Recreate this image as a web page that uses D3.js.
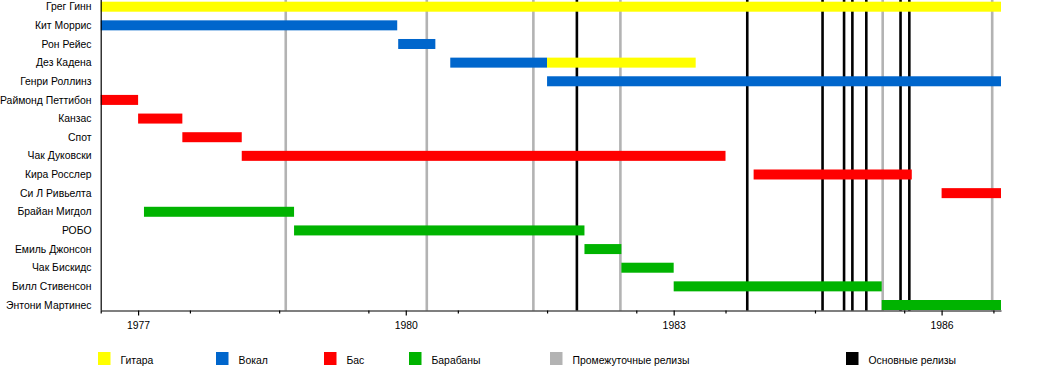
<!DOCTYPE html>
<html>
<head>
<meta charset="utf-8">
<script src="https://cdn.jsdelivr.net/npm/d3@7"></script>
<style>
  html, body { margin: 0; padding: 0; background: #fff; }
  svg { display: block; font-family: "Liberation Sans", Arial, sans-serif; }
</style>
</head>
<body>
<svg id="chart" width="1050" height="370"></svg>
<script>
// ---------- data ----------
const members = ["Грег Гинн", "Кит Моррис", "Рон Рейес", "Дез Кадена", "Генри Роллинз",
  "Раймонд Петтибон", "Канзас", "Спот", "Чак Дуковски", "Кира Росслер", "Си Л Ривьелта",
  "Брайан Мигдол", "РОБО", "Емиль Джонсон", "Чак Бискидс", "Билл Стивенсон", "Энтони Мартинес"];

const roles = ["guitar", "vocals", "bass", "drums"];
const roleLabels = ["Гитара", "Вокал", "Бас", "Барабаны"];
const roleColors = ["#ffff00", "#0066cc", "#ff0000", "#00b300"];

// member, role, from, till (mm/dd/yyyy)
const barMember = ["Грег Гинн", "Кит Моррис", "Рон Рейес", "Дез Кадена", "Дез Кадена", "Генри Роллинз",
  "Раймонд Петтибон", "Канзас", "Спот", "Чак Дуковски", "Кира Росслер", "Си Л Ривьелта",
  "Брайан Мигдол", "РОБО", "Емиль Джонсон", "Чак Бискидс", "Билл Стивенсон", "Энтони Мартинес"];
const barRole = ["guitar", "vocals", "vocals", "vocals", "guitar", "vocals",
  "bass", "bass", "bass", "bass", "bass", "bass",
  "drums", "drums", "drums", "drums", "drums", "drums"];
const barFrom = ["08/01/1976", "08/01/1976", "12/01/1979", "07/01/1980", "08/01/1981", "08/01/1981",
  "08/01/1976", "01/01/1977", "07/01/1977", "03/01/1978", "11/24/1983", "01/01/1986",
  "01/25/1977", "10/01/1978", "01/01/1982", "06/01/1982", "01/01/1983", "05/01/1985"];
const barTill = ["09/01/1986", "11/27/1979", "05/01/1980", "08/01/1981", "04/01/1983", "09/01/1986",
  "01/01/1977", "07/01/1977", "03/01/1978", "08/01/1983", "09/01/1985", "09/01/1986",
  "10/01/1978", "01/01/1982", "06/01/1982", "01/01/1983", "05/01/1985", "09/01/1986"];

const periodFrom = "08/01/1976";
const periodTill = "09/01/1986";

const intermediateReleases = ["08/28/1978", "03/27/1980", "06/06/1981", "05/28/1982", "05/05/1985", "07/27/1986"];
const mainReleases = ["12/01/1981", "10/29/1983", "09/01/1984", "11/28/1984", "01/01/1985", "02/27/1985", "07/17/1985", "08/22/1985"];

const majorTickYears = ["01/01/1977", "01/01/1980", "01/01/1983", "01/01/1986"];
const majorTickLabels = ["1977", "1980", "1983", "1986"];
const minorTickDates = ["08/01/1976", "08/01/1977", "08/01/1978", "08/01/1979", "08/01/1980", "08/01/1981",
  "08/01/1982", "08/01/1983", "08/01/1984", "08/01/1985", "08/01/1986"];

const lineLegendLabels = ["Промежуточные релизы", "Основные релизы"];
const lineLegendColors = ["#b3b3b3", "#000000"];

// ---------- layout ----------
const parse = d3.timeParse("%m/%d/%Y");
const svg = d3.select("#chart");
const plotLeft = 100.7, plotRight = 1001, plotTop = 0, axisY = 310.5;
const fontSize = 10.4;

const x = d3.scaleTime().domain([parse(periodFrom), parse(periodTill)]).range([plotLeft, plotRight]);
const y = d3.scalePoint().domain(members).range([6.7, 305]);
const color = d3.scaleOrdinal().domain(roles).range(roleColors);
const barH = 10;

// release lines (behind bars)
const lineG = svg.append("g");
lineG.selectAll("line.inter").data(intermediateReleases).join("line")
  .attr("class", "inter")
  .attr("x1", d => x(parse(d))).attr("x2", d => x(parse(d)))
  .attr("y1", plotTop).attr("y2", axisY)
  .attr("stroke", lineLegendColors[0]).attr("stroke-width", 2.6);
lineG.selectAll("line.main").data(mainReleases).join("line")
  .attr("class", "main")
  .attr("x1", d => x(parse(d))).attr("x2", d => x(parse(d)))
  .attr("y1", plotTop).attr("y2", axisY)
  .attr("stroke", lineLegendColors[1]).attr("stroke-width", 2.6);

// bars
const bars = barMember.map((m, i) => ({ m, role: barRole[i], from: parse(barFrom[i]), till: parse(barTill[i]) }));
svg.append("g").selectAll("rect").data(bars).join("rect")
  .attr("x", d => x(d.from))
  .attr("width", d => x(d.till) - x(d.from))
  .attr("y", d => y(d.m) - barH / 2)
  .attr("height", barH)
  .attr("fill", d => color(d.role));

// left frame line
svg.append("line")
  .attr("x1", plotLeft + 0.5).attr("x2", plotLeft + 0.5)
  .attr("y1", plotTop).attr("y2", axisY)
  .attr("stroke", "#000").attr("stroke-width", 1.2);

// member labels
svg.append("g").selectAll("text").data(members).join("text")
  .attr("x", 91.5)
  .attr("y", d => y(d))
  .attr("dy", "0.35em")
  .attr("text-anchor", "end")
  .attr("font-size", fontSize)
  .attr("fill", "#000")
  .text(d => d);

// axis: major ticks
const majorAxis = d3.axisBottom(x)
  .tickValues(majorTickYears.map(parse))
  .tickFormat((d, i) => majorTickLabels[i])
  .tickSize(5)
  .tickSizeOuter(0)
  .tickPadding(6);
const gAxis = svg.append("g").attr("transform", `translate(0,${axisY})`).call(majorAxis);
gAxis.select(".domain").attr("stroke", "#000").attr("stroke-width", 1.2);
gAxis.selectAll(".tick line").attr("stroke", "#000").attr("stroke-width", 1.2);
gAxis.selectAll(".tick text").attr("font-size", fontSize).attr("font-family", "Liberation Sans, Arial, sans-serif").attr("fill", "#000");

// minor ticks
const minorAxis = d3.axisBottom(x)
  .tickValues(minorTickDates.map(parse))
  .tickFormat("")
  .tickSize(3)
  .tickSizeOuter(0);
const gMinor = svg.append("g").attr("transform", `translate(0,${axisY})`).call(minorAxis);
gMinor.select(".domain").remove();
gMinor.selectAll(".tick line").attr("stroke", "#000").attr("stroke-width", 1.2);

// legend
const legendLabels = roleLabels.concat(lineLegendLabels);
const legendColors = roleColors.concat(lineLegendColors);
const legendX = [98, 216, 324, 409, 550, 846];
const lg = svg.append("g").selectAll("g").data(legendLabels).join("g")
  .attr("transform", (d, i) => `translate(${legendX[i]},352)`);
lg.append("rect").attr("width", 12.5).attr("height", 13).attr("fill", (d, i) => legendColors[i]);
lg.append("text").attr("x", 22.5).attr("y", 12).attr("font-size", fontSize).attr("fill", "#000").text(d => d);
</script>
</body>
</html>
